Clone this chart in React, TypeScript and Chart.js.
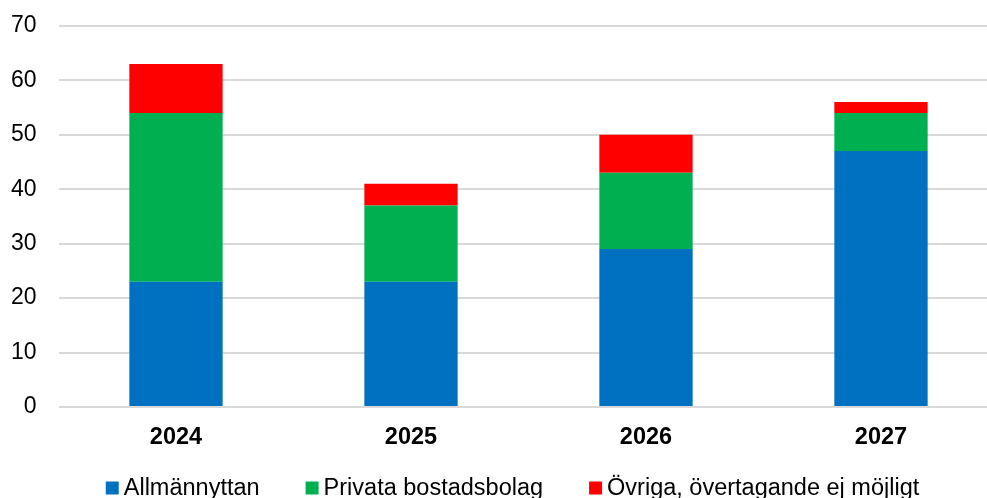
import React, { useEffect, useRef } from "react";
import { Chart, registerables } from "chart.js";

Chart.register(...registerables);

const categories = ["2024", "2025", "2026", "2027"];
const seriesNames = ["Allmännyttan", "Privata bostadsbolag", "Övriga, övertagande ej möjligt"];
const allmannyttan = [23, 23, 29, 47];
const privata = [31, 14, 14, 7];
const ovriga = [9, 4, 7, 2];
const seriesColors = ["#0070C0", "#00B050", "#FF0000"];
const yTicks = [0, 10, 20, 30, 40, 50, 60, 70];

const FONT = "'Liberation Sans', Arial, sans-serif";
const SHIFT = 10;

const legendPlugin = {
  id: "customLegend",
  afterDraw(chart: any) {
    const ctx = chart.ctx;
    const ds = chart.data.datasets;
    const fontSize = 23.5;
    const box = 13;
    const gapText = 5;
    const gapItem = 46;
    ctx.save();
    ctx.font = `${fontSize}px ${FONT}`;
    const widths = ds.map((d: any) => ctx.measureText(d.label).width);
    let total = 0;
    widths.forEach((w: number, i: number) => {
      total += box + gapText + w + (i < widths.length - 1 ? gapItem : 0);
    });
    let x = 512.5 - total / 2;
    const cy = 488 + SHIFT;
    ds.forEach((d: any, i: number) => {
      ctx.fillStyle = d.backgroundColor;
      ctx.fillRect(x, cy - box / 2, box, box);
      ctx.fillStyle = "#000";
      ctx.textBaseline = "middle";
      ctx.textAlign = "left";
      ctx.fillText(d.label, x + box + gapText, cy + 1);
      x += box + gapText + widths[i] + gapItem;
    });
    ctx.restore();
  },
};

export default function App() {
  const ref = useRef<HTMLCanvasElement | null>(null);
  useEffect(() => {
    document.documentElement.style.overflow = "hidden";
    document.body.style.margin = "0";
    const values = [allmannyttan, privata, ovriga];
    const chart = new Chart(ref.current as HTMLCanvasElement, {
      type: "bar",
      data: {
        labels: categories,
        datasets: seriesNames.map((name, i) => ({
          label: name,
          data: values[i],
          backgroundColor: seriesColors[i],
          borderWidth: 0,
          categoryPercentage: 1,
          barPercentage: 0.397,
        })),
      },
      options: {
        responsive: false,
        animation: false,
        layout: { padding: { top: 0, right: 1.5, left: 0, bottom: 0 } },
        plugins: {
          legend: { display: false },
          tooltip: { enabled: false },
        },
        scales: {
          x: {
            stacked: true,
            afterFit: (s: any) => {
              s.height = 91;
            },
            grid: { display: false, drawTicks: false },
            border: { display: false },
            ticks: {
              padding: 16,
              color: "#000",
              font: { family: FONT, size: 23.5, weight: "bold" },
            },
          },
          y: {
            stacked: true,
            min: 0,
            max: 70,
            afterFit: (s: any) => {
              s.width = 58.5;
            },
            afterBuildTicks: (s: any) => {
              s.ticks = yTicks.map((v) => ({ value: v }));
            },
            grid: { color: "#D9D9D9", lineWidth: 2, drawTicks: false },
            border: { display: false },
            ticks: {
              padding: 22,
              color: "#000",
              font: { family: FONT, size: 23 },
            },
          },
        },
      },
      plugins: [legendPlugin],
    });
    return () => chart.destroy();
  }, []);
  return (
    <div style={{ position: "fixed", left: 0, top: 0, width: 1000, height: 498, overflow: "hidden", background: "#fff" }}>
      <canvas
        ref={ref}
        width={1000}
        height={498 + SHIFT}
        style={{ display: "block", position: "absolute", left: 0, top: -SHIFT }}
      />
    </div>
  );
}
